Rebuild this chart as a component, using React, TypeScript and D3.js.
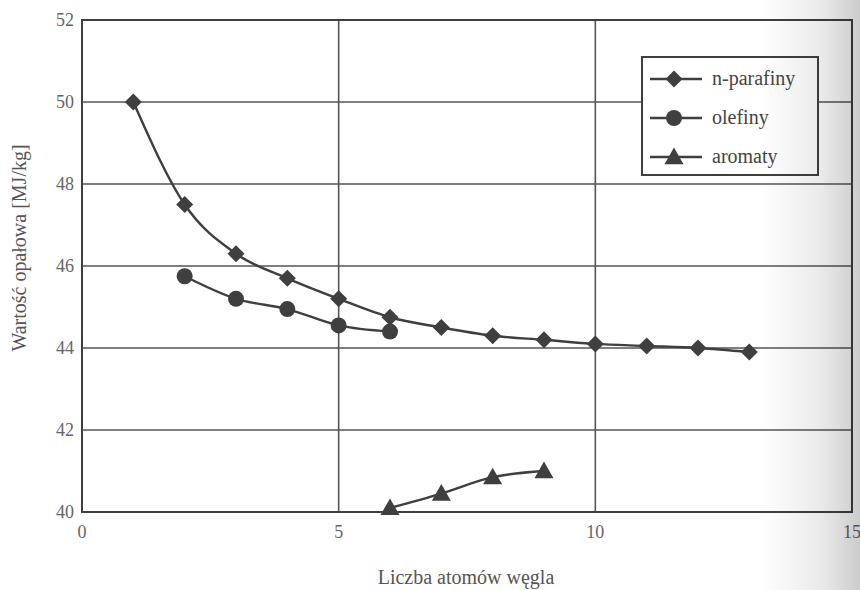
import React from "react";
import * as d3 from "d3";

const xTicks = [0, 5, 10, 15];
const yTicks = [40, 42, 44, 46, 48, 50, 52];

const parafinyX = [1, 2, 3, 4, 5, 6, 7, 8, 9, 10, 11, 12, 13];
const parafinyY = [50.0, 47.5, 46.3, 45.7, 45.2, 44.75, 44.5, 44.3, 44.2, 44.1, 44.05, 44.0, 43.9];

const olefinyX = [2, 3, 4, 5, 6];
const olefinyY = [45.75, 45.2, 44.95, 44.55, 44.4];

const aromatyX = [6, 7, 8, 9];
const aromatyY = [40.1, 40.45, 40.85, 41.0];

const seriesNames = ["n-parafiny", "olefiny", "aromaty"];

const W = 860;
const H = 590;
const M = { left: 82, right: 852, top: 20, bottom: 512 };
const INK = "#3f3f3f";
const GRID = "#555";
const FONT = "'Liberation Serif', 'Times New Roman', 'DejaVu Serif', serif";

type Shape = "diamond" | "circle" | "triangle";

function Marker({ x, y, shape }: { x: number; y: number; shape: Shape }) {
  if (shape === "circle") return <circle cx={x} cy={y} r={8} fill={INK} />;
  if (shape === "diamond") {
    const s = 8.5;
    return <path d={`M${x},${y - s}L${x + s},${y}L${x},${y + s}L${x - s},${y}Z`} fill={INK} />;
  }
  const s = 9.5;
  return <path d={`M${x},${y - s}L${x + s},${y + s * 0.75}L${x - s},${y + s * 0.75}Z`} fill={INK} />;
}

export default function App() {
  const x = d3.scaleLinear().domain([0, 15]).range([M.left, M.right]);
  const y = d3.scaleLinear().domain([40, 52]).range([M.bottom, M.top]);

  const series: { xs: number[]; ys: number[]; shape: Shape }[] = [
    { xs: parafinyX, ys: parafinyY, shape: "diamond" },
    { xs: olefinyX, ys: olefinyY, shape: "circle" },
    { xs: aromatyX, ys: aromatyY, shape: "triangle" },
  ];

  const line = d3
    .line<[number, number]>()
    .x((d) => x(d[0]))
    .y((d) => y(d[1]))
    .curve(d3.curveMonotoneX);

  const legend = { x: 642, y: 57, w: 176, h: 118 };

  return (
    <svg
      width={W}
      height={H}
      style={{ position: "absolute", left: 0, top: 0, background: "#fff", fontFamily: FONT }}
    >
      <defs>
        <linearGradient id="shade" x1="0" x2="1" y1="0" y2="0">
          <stop offset="0" stopColor="#000" stopOpacity={0} />
          <stop offset="0.6" stopColor="#000" stopOpacity={0.08} />
          <stop offset="1" stopColor="#000" stopOpacity={0.2} />
        </linearGradient>
      </defs>

      {/* grid */}
      {yTicks.map((t) => (
        <line key={"gy" + t} x1={M.left} x2={M.right} y1={y(t)} y2={y(t)} stroke={GRID} strokeWidth={1.6} />
      ))}
      {xTicks.map((t) => (
        <line key={"gx" + t} x1={x(t)} x2={x(t)} y1={M.top} y2={M.bottom} stroke={GRID} strokeWidth={1.6} />
      ))}
      <rect
        x={M.left}
        y={M.top}
        width={M.right - M.left}
        height={M.bottom - M.top}
        fill="none"
        stroke={INK}
        strokeWidth={2}
      />

      {/* tick labels */}
      {yTicks.map((t) => (
        <text key={"ly" + t} x={M.left - 8} y={y(t) + 6} textAnchor="end" fontSize={18} fill="#666">
          {t}
        </text>
      ))}
      {xTicks.map((t) => (
        <text key={"lx" + t} x={x(t)} y={M.bottom + 26} textAnchor="middle" fontSize={18} fill="#666">
          {t}
        </text>
      ))}

      {/* axis titles */}
      <text x={466} y={584} textAnchor="middle" fontSize={20} fill="#555">
        Liczba atomów węgla
      </text>
      <text
        transform={`translate(26,${248}) rotate(-90)`}
        textAnchor="middle"
        fontSize={20}
        fill="#555"
      >
        Wartość opałowa [MJ/kg]
      </text>

      {/* series */}
      {series.map((s, i) => {
        const pts = s.xs.map((v, j) => [v, s.ys[j]] as [number, number]);
        return (
          <g key={"s" + i}>
            <path d={line(pts) || ""} fill="none" stroke={INK} strokeWidth={2.4} />
            {pts.map((p, j) => (
              <Marker key={j} x={x(p[0])} y={y(p[1])} shape={s.shape} />
            ))}
          </g>
        );
      })}

      {/* legend */}
      <rect x={legend.x} y={legend.y} width={legend.w} height={legend.h} fill="#fff" stroke={INK} strokeWidth={2} />
      {seriesNames.map((name, i) => {
        const ly = legend.y + 22 + i * 39;
        return (
          <g key={"lg" + i}>
            <line x1={legend.x + 8} x2={legend.x + 60} y1={ly} y2={ly} stroke={INK} strokeWidth={2.4} />
            <Marker x={legend.x + 32} y={ly} shape={series[i].shape} />
            <text x={legend.x + 70} y={ly + 6} fontSize={20} fill="#444">
              {name}
            </text>
          </g>
        );
      })}

      {/* page shading toward the binding */}
      <rect x={760} y={0} width={100} height={H} fill="url(#shade)" />
    </svg>
  );
}
